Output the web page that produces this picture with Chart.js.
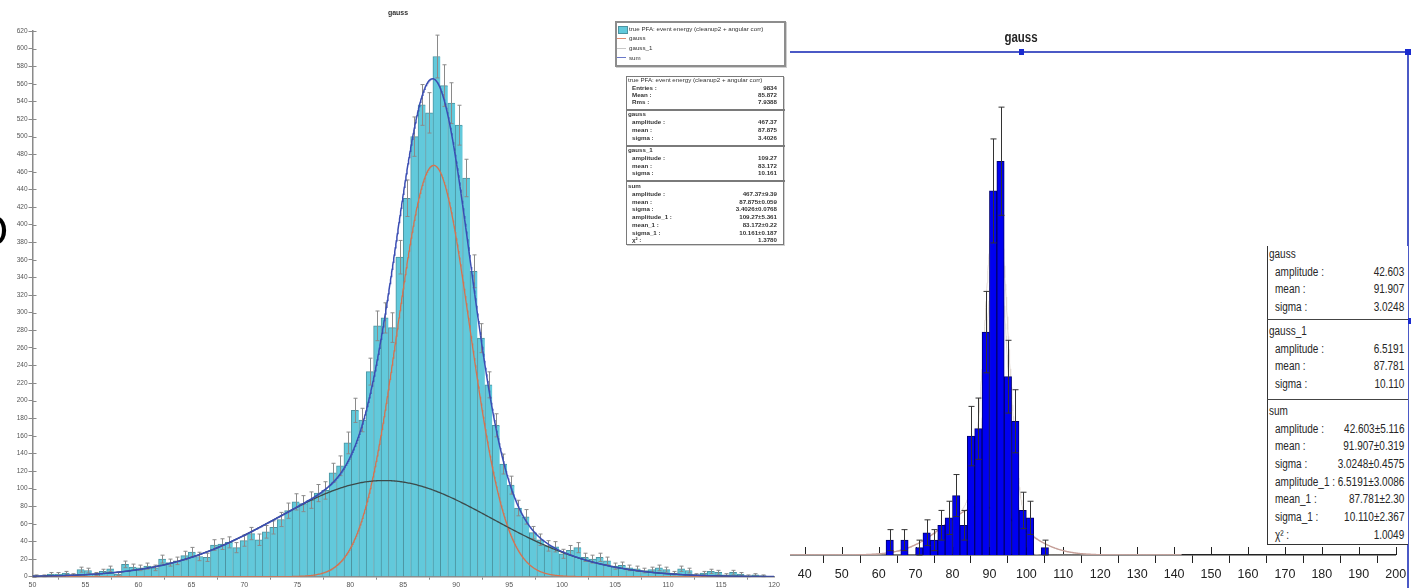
<!DOCTYPE html>
<html>
<head>
<meta charset="utf-8">
<script src="https://cdn.jsdelivr.net/npm/chart.js@4.4.1/dist/chart.umd.min.js"></script>
<style>
  html, body { margin: 0; padding: 0; background: #fff; width: 1416px; height: 588px; overflow: hidden; }
  #left { position: absolute; left: 0; top: 0; width: 790px; height: 588px; overflow: hidden; filter: blur(0.55px); }
  #right { position: absolute; left: 790px; top: 0; width: 626px; height: 588px; overflow: hidden; }
  canvas { position: absolute; left: 0; top: 0; }
  .t { position: absolute; white-space: nowrap; line-height: 1; }
  .lt { font-family: 'Liberation Sans', Arial, sans-serif; color: #333; }
  .rt { font-family: 'Liberation Sans', Arial, sans-serif; color: #262626; }
  .box { position: absolute; background: #fff; }
  .hl { position: absolute; }
</style>
</head>
<body>
<div id="left"><canvas id="cLeft" width="790" height="588" style="width:790px;height:588px"></canvas></div>
<div id="right"><canvas id="cRight" width="626" height="588" style="width:626px;height:588px"></canvas></div>
<script>
// ---- histogram contents ----
// left: 100 bins of 0.7 starting at 50
const leftBinStart = 50;
const leftBinWidth = 0.7;
const leftCounts = [
  1, 1, 3, 3, 4, 2, 8, 7, 3, 6,
  9, 3, 14, 11, 10, 12, 10, 20, 16, 18,
  24, 28, 23, 22, 36, 37, 39, 33, 41, 49,
  42, 51, 56, 65, 75, 85, 83, 87, 95, 98,
  118, 126, 152, 189, 178, 233, 285, 294, 283, 363,
  430, 500, 536, 527, 591, 558, 538, 513, 453, 347,
  271, 218, 172, 128, 104, 78, 68, 50, 42, 35,
  34, 26, 30, 33, 22, 20, 22, 18, 12, 13,
  10, 9, 7, 8, 10, 8, 4, 9, 7, 2,
  4, 6, 5, 2, 5, 3, 1, 2, 1, 0
];
// right: 22 bins of 2 starting at 62
const rightBinStart = 62;
const rightBinWidth = 2;
const rightCounts = [2, 0, 2, 0, 1, 3, 2, 4, 5, 8, 4, 16, 17, 30, 49, 53, 24, 18, 6, 5, 0, 1];

// fitted gaussians: [amplitude, mean, sigma]
const leftGauss = [467.37, 87.875, 3.4026];
const leftGauss1 = [109.27, 83.172, 10.161];
const rightGauss = [42.603, 91.907, 3.0248];
const rightGauss1 = [6.5191, 87.781, 10.110];

// axis ticks
const leftXTicks = [50, 55, 60, 65, 70, 75, 80, 85, 90, 95, 100, 105, 110, 115, 120];
const leftYTicks = [0, 20, 40, 60, 80, 100, 120, 140, 160, 180, 200, 220, 240, 260, 280, 300,
  320, 340, 360, 380, 400, 420, 440, 460, 480, 500, 520, 540, 560, 580, 600, 620];
const rightXTicks = [40, 50, 60, 70, 80, 90, 100, 110, 120, 130, 140, 150, 160, 170, 180, 190, 200];

// legend and statistics text
const leftTitle = 'gauss';
const rightTitle = 'gauss';
const histName = 'true PFA: event energy (cleanup2 + angular corr)';
const legendNames = ['gauss', 'gauss_1', 'sum'];
const leftSummary = [['Entries :', '9834'], ['Mean :', '85.872'], ['Rms :', '7.9388']];
const leftFitSections = [
  ['gauss', [['amplitude :', '467.37'], ['mean :', '87.875'], ['sigma :', '3.4026']]],
  ['gauss_1', [['amplitude :', '109.27'], ['mean :', '83.172'], ['sigma :', '10.161']]],
  ['sum', [['amplitude :', '467.37±9.39'], ['mean :', '87.875±0.059'], ['sigma :', '3.4026±0.0768'],
           ['amplitude_1 :', '109.27±5.361'], ['mean_1 :', '83.172±0.22'], ['sigma_1 :', '10.161±0.187'],
           ['χ² :', '1.3780']]]
];
const rightFitSections = [
  ['gauss', [['amplitude :', '42.603'], ['mean :', '91.907'], ['sigma :', '3.0248']]],
  ['gauss_1', [['amplitude :', '6.5191'], ['mean :', '87.781'], ['sigma :', '10.110']]],
  ['sum', [['amplitude :', '42.603±5.116'], ['mean :', '91.907±0.319'], ['sigma :', '3.0248±0.4575'],
           ['amplitude_1 :', '6.5191±3.0086'], ['mean_1 :', '87.781±2.30'], ['sigma_1 :', '10.110±2.367'],
           ['χ² :', '1.0049']]]
];

// ---- helpers ----
function binPoints(start, width, counts) {
  const pts = [];
  counts.forEach((c, i) => { if (c > 0) pts.push({ x: start + width * (i + 0.5), y: c }); });
  return pts;
}
function gaussAt(p, x) { return p[0] * Math.exp(-0.5 * Math.pow((x - p[1]) / p[2], 2)); }
function curve(params, from, to, step) {
  const pts = [];
  for (let x = from; x <= to + 1e-9; x += step) {
    let y = 0;
    params.forEach(p => { y += gaussAt(p, x); });
    pts.push({ x: x, y: y });
  }
  return pts;
}

// symmetric sqrt(N) error bars drawn right after the histogram dataset
const errorBars = {
  id: 'errorBars',
  afterDatasetDraw(chart, args, o) {
    const ds = chart.data.datasets[args.index];
    if (ds.type !== 'bar') return;
    const ys = chart.scales.y, ctx = chart.ctx;
    ctx.save();
    ctx.strokeStyle = o.color; ctx.lineWidth = o.width;
    ctx.beginPath();
    args.meta.data.forEach((el, i) => {
      const v = ds.data[i].y;
      const e = Math.sqrt(v);
      const x = Math.round(el.x) + 0.5;
      const yt = ys.getPixelForValue(v + e), yb = ys.getPixelForValue(v - e);
      ctx.moveTo(x, yt); ctx.lineTo(x, yb);
      ctx.moveTo(x - o.cap, yt); ctx.lineTo(x + o.cap, yt);
      ctx.moveTo(x - o.cap, yb); ctx.lineTo(x + o.cap, yb);
    });
    ctx.stroke();
    ctx.restore();
  }
};
// tick marks on the inner side of the axis lines
const innerTicks = {
  id: 'innerTicks',
  beforeDatasetsDraw(chart, args, o) {
    const ctx = chart.ctx, a = chart.chartArea;
    ctx.save();
    ctx.strokeStyle = o.color; ctx.lineWidth = o.width;
    ctx.beginPath();
    if (o.x) chart.scales.x.ticks.forEach(t => {
      const px = Math.round(chart.scales.x.getPixelForValue(t.value)) + 0.5;
      ctx.moveTo(px, a.bottom); ctx.lineTo(px, a.bottom - o.x);
    });
    if (o.y && chart.scales.y.options.display) chart.scales.y.ticks.forEach(t => {
      const py = Math.round(chart.scales.y.getPixelForValue(t.value)) + 0.5;
      ctx.moveTo(a.left, py); ctx.lineTo(a.left + o.y, py);
    });
    ctx.stroke();
    ctx.restore();
  }
};
function fixedTicks(arr) { return s => { s.ticks = arr.map(v => ({ value: v })); }; }

Chart.defaults.devicePixelRatio = 1;

// ---- left panel ----
new Chart(document.getElementById('cLeft'), {
  type: 'bar',
  data: {
    datasets: [
      { type: 'bar', label: histName, data: binPoints(leftBinStart, leftBinWidth, leftCounts),
        backgroundColor: '#62c9db', borderColor: '#4c93a0',
        borderWidth: { left: 1, right: 0, top: 1, bottom: 0 },
        barPercentage: 1, categoryPercentage: 1, order: 2 },
      { type: 'line', label: legendNames[1], data: curve([leftGauss1], 50, 120, 0.1),
        borderColor: '#3c4a4a', borderWidth: 1.3, pointRadius: 0, order: 1 },
      { type: 'line', label: legendNames[0], data: curve([leftGauss], 50, 120, 0.05),
        borderColor: '#d6724f', borderWidth: 1.3, pointRadius: 0, order: 1 },
      { type: 'line', label: legendNames[2], data: curve([leftGauss, leftGauss1], 50, 120, 0.05),
        borderColor: '#3a4db3', borderWidth: 1.5, pointRadius: 0, order: 0 }
    ]
  },
  options: {
    responsive: false, animation: false,
    layout: { padding: { top: 31, right: 16, left: 0, bottom: 0 } },
    plugins: {
      legend: { display: false }, tooltip: { enabled: false },
      errorBars: { color: '#8a8a8a', width: 1, cap: 2 },
      innerTicks: { color: '#8a8a8a', width: 1, x: 0, y: 4 }
    },
    scales: {
      x: {
        type: 'linear', min: 50, max: 120, offset: false,
        afterBuildTicks: fixedTicks(leftXTicks),
        ticks: { autoSkip: false, maxRotation: 0, padding: 1, color: '#555',
                 font: { family: "'Liberation Sans', Arial, sans-serif", size: 7 } },
        grid: { drawOnChartArea: false, tickLength: 3, color: '#8a8a8a' },
        border: { color: '#8a8a8a', width: 1.5 },
        afterFit: s => { s.height = 11.3; }
      },
      y: {
        min: 0, max: 620,
        afterBuildTicks: fixedTicks(leftYTicks),
        ticks: { autoSkip: false, padding: 1, color: '#555',
                 font: { family: "'Liberation Sans', Arial, sans-serif", size: 6.5 } },
        grid: { drawOnChartArea: false, tickLength: 4, color: '#8a8a8a' },
        border: { color: '#8a8a8a', width: 1.5 },
        afterFit: s => { s.width = 32.5; }
      }
    }
  },
  plugins: [errorBars, innerTicks]
});

// ---- right panel ----
new Chart(document.getElementById('cRight'), {
  type: 'bar',
  data: {
    datasets: [
      { type: 'bar', label: histName, data: binPoints(rightBinStart, rightBinWidth, rightCounts),
        backgroundColor: '#0000f0', borderColor: '#000070', borderWidth: 1,
        barPercentage: 1, categoryPercentage: 1, order: 1 },
      { type: 'line', label: legendNames[0], data: curve([rightGauss], 36, 142, 0.1),
        borderColor: '#e6dfd8', borderWidth: 1, pointRadius: 0, order: 3 },
      { type: 'line', label: legendNames[2], data: curve([rightGauss, rightGauss1], 36, 142, 0.1),
        borderColor: '#e2dad3', borderWidth: 1, pointRadius: 0, order: 3 },
      { type: 'line', label: legendNames[1], data: curve([rightGauss1], 36, 142, 0.25),
        borderColor: '#c6a09a', borderWidth: 1.4, pointRadius: 0, order: 2 }
    ]
  },
  options: {
    responsive: false, animation: false,
    layout: { padding: { top: 52, right: 20.3, left: 0, bottom: 0 } },
    plugins: {
      legend: { display: false }, tooltip: { enabled: false },
      errorBars: { color: '#333', width: 1, cap: 3 },
      innerTicks: { color: '#222', width: 1, x: 8, y: 0 }
    },
    scales: {
      x: {
        type: 'linear', min: 36, max: 200, offset: false,
        afterBuildTicks: fixedTicks(rightXTicks),
        ticks: { autoSkip: false, maxRotation: 0, padding: 4, color: '#222',
                 font: { family: "'Liberation Sans', Arial, sans-serif", size: 12.5 } },
        grid: { drawOnChartArea: false, tickLength: 8, color: '#222' },
        border: { color: '#222', width: 1.5 },
        afterFit: s => { s.height = 33; }
      },
      y: { display: false, min: 0, max: 67.7 }
    }
  },
  plugins: [errorBars, innerTicks]
});

// ---- overlay text boxes ----
function el(parent, cls, style, text) {
  const d = document.createElement('div');
  d.className = cls;
  Object.assign(d.style, style);
  if (text !== undefined) d.textContent = text;
  parent.appendChild(d);
  return d;
}
// text anchored at (x, y middle); sx narrows the glyphs horizontally
function txt(parent, cls, text, x, y, align, size, weight, sx) {
  sx = sx || 1;
  const pw = parent === document.body ? 1416 : 790;
  const st = { top: y + 'px', fontSize: size + 'px', fontWeight: weight || 'normal' };
  if (align === 'right') {
    st.right = (pw - x) + 'px'; st.transformOrigin = 'right center';
    st.transform = 'translateY(-50%) scaleX(' + sx + ')';
  } else if (align === 'center') {
    st.left = x + 'px'; st.transformOrigin = 'left center';
    st.transform = 'translate(-50%,-50%) scaleX(' + sx + ')';
    st.transformOrigin = 'center center';
  } else {
    st.left = x + 'px'; st.transformOrigin = 'left center';
    st.transform = 'translateY(-50%) scaleX(' + sx + ')';
  }
  return el(parent, 't ' + cls, st, text);
}
const L = document.getElementById('left');
const B = document.body;

// left title
txt(L, 'lt', leftTitle, 398, 12, 'center', 7, 'bold');
// cut-off glyph at the left border
txt(L, 'lt', 'O', -26, 231, 'left', 44, 'normal').style.color = '#000';

// left legend box
el(L, 'box', { left: '615px', top: '21px', width: '167px', height: '42px', border: '2px solid #8d8d8d', boxShadow: '1px 1px 0 #cfcfcf' });
el(L, 'hl', { left: '618px', top: '26px', width: '8px', height: '6px', background: '#62c9db', border: '1px solid #4c93a0' });
txt(L, 'lt', histName, 629, 29, 'left', 6.2);
const legendColors = ['#e08a70', '#c8c8c8', '#6a78c8'];
const legendY = [38.3, 48.3, 57.7];
legendNames.forEach((n, i) => {
  el(L, 'hl', { left: '617px', top: (legendY[i] - 0.5) + 'px', width: '9px', height: '1.2px', background: legendColors[i] });
  txt(L, 'lt', n, 629, legendY[i], 'left', 6.2);
});

// left statistics box
el(L, 'box', { left: '626px', top: '76px', width: '156px', height: '167px', border: '1.5px solid #7a7a7a', boxShadow: '1px 1px 0 #d0d0d0' });
txt(L, 'lt', histName, 628, 80.3, 'left', 6.2);
leftSummary.forEach((r, i) => {
  const y = 87.7 + i * 7.3;
  txt(L, 'lt', r[0], 632, y, 'left', 6.2, 'bold');
  txt(L, 'lt', r[1], 777, y, 'right', 6.2, 'bold');
});
const leftSepY = [109.3, 145, 180.3];
const leftHeadY = [114.3, 150, 186];
leftFitSections.forEach((s, k) => {
  el(L, 'hl', { left: '626px', top: leftSepY[k] + 'px', width: '159px', height: '1.5px', background: '#7a7a7a' });
  txt(L, 'lt', s[0], 628, leftHeadY[k], 'left', 6.2, 'bold');
  s[1].forEach((r, i) => {
    const y = leftHeadY[k] + 8 + i * 7.7;
    txt(L, 'lt', r[0], 632, y, 'left', 6.2, 'bold');
    txt(L, 'lt', r[1], 777, y, 'right', 6.2, 'bold');
  });
});

// right title, frame lines and markers
txt(B, 'rt', rightTitle, 1021, 37, 'center', 14, 'bold', 0.82);
el(B, 'hl', { left: '790px', top: '51px', width: '620px', height: '2px', background: '#4b59c6' });
el(B, 'hl', { left: '1407px', top: '52px', width: '2px', height: '536px', background: '#4b59c6' });
el(B, 'hl', { left: '1019px', top: '49px', width: '5px', height: '6px', background: '#1a2bd0' });
el(B, 'hl', { left: '1405px', top: '49px', width: '6px', height: '6px', background: '#1a2bd0' });
el(B, 'hl', { left: '1405px', top: '318px', width: '6px', height: '6px', background: '#1a2bd0' });

// right statistics box
el(B, 'box', { left: '1267px', top: '246px', width: '140px', height: '298px', borderLeft: '1.5px solid #333', borderBottom: '1.5px solid #333' });
const rightSepY = [318.5, 398.5];
const rightHeadY = [254, 331, 411];
rightFitSections.forEach((s, k) => {
  if (k > 0) el(B, 'hl', { left: '1267px', top: rightSepY[k - 1] + 'px', width: '141px', height: '1.5px', background: '#444' });
  txt(B, 'rt', s[0], 1269, rightHeadY[k], 'left', 12.5, 'normal', 0.8);
  s[1].forEach((r, i) => {
    const y = rightHeadY[k] + 17.5 + i * 17.7;
    txt(B, 'rt', r[0], 1275, y, 'left', 12.5, 'normal', 0.8);
    txt(B, 'rt', r[1], 1404, y, 'right', 12.5, 'normal', 0.8);
  });
});
</script>
</body>
</html>
